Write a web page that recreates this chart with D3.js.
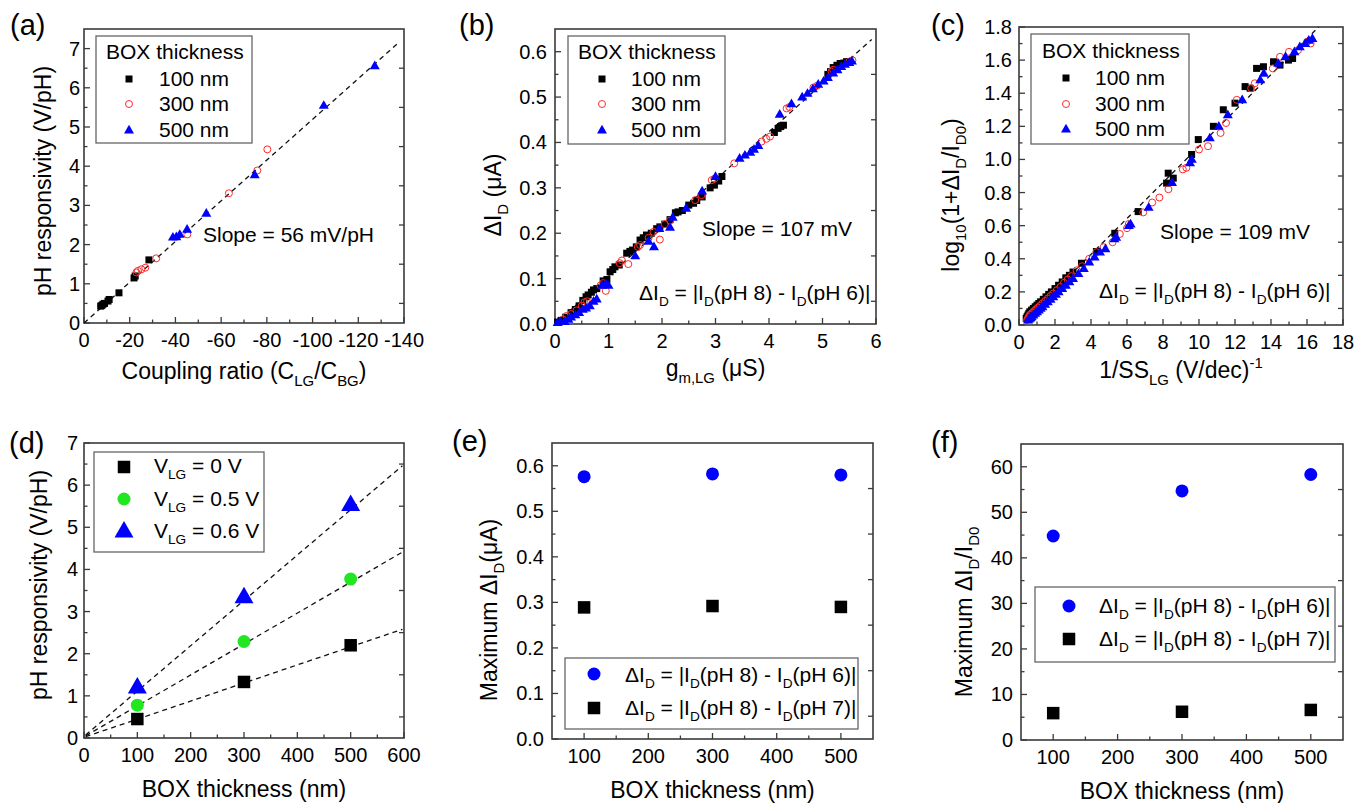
<!DOCTYPE html>
<html><head><meta charset="utf-8">
<script src="https://cdn.jsdelivr.net/npm/d3@7"></script>
<style>
body{margin:0;background:#fff}
svg{display:block}
text{font-family:"Liberation Sans",Arial,sans-serif;fill:#000}
</style>
</head><body>
<svg id="c" width="1367" height="803"></svg>
<script>
// ---------------- DATA ----------------
// (a) coupling ratio vs pH responsivity
const a100x = [-7.3,-7.8,-8.3,-9.0,-10.5,-11.0,-15.3,-21.9,-22.4,-28.4];
const a100y = [0.43,0.45,0.48,0.50,0.56,0.60,0.77,1.15,1.20,1.61];
const a300x = [-22.9,-23.6,-25.1,-26.8,-31.6,-45.2,-63.4,-75.8,-80.2];
const a300y = [1.29,1.33,1.37,1.41,1.65,2.26,3.31,3.89,4.43];
const a500x = [-38.9,-40.4,-41.9,-45.1,-53.5,-74.7,-104.9,-127.2];
const a500y = [2.19,2.20,2.26,2.39,2.80,3.78,5.55,6.56];
const aFitX = [0,-138], aFitY = [0,7.17];

// (b) gm,LG vs delta ID
const b100x = [0.05,0.12,0.2,0.3,0.38,0.45,0.52,0.58,0.62,0.68,0.72,0.78,0.9,0.97,1.03,1.08,1.12,1.2,1.34,1.4,1.45,1.52,1.59,1.65,1.71,1.8,1.9,1.96,2.05,2.15,2.25,2.3,2.38,2.5,2.59,2.65,2.75,2.9,2.98,3.06,3.12,4.1,4.17,4.22,4.27,5.1,5.15,5.2,5.27,5.33,5.4,5.45,5.5];
const b100y = [0.004,0.008,0.015,0.025,0.032,0.04,0.052,0.06,0.064,0.07,0.075,0.078,0.095,0.098,0.115,0.12,0.126,0.13,0.156,0.16,0.163,0.17,0.185,0.19,0.196,0.2,0.21,0.214,0.22,0.23,0.245,0.247,0.25,0.262,0.266,0.272,0.28,0.3,0.306,0.315,0.325,0.422,0.431,0.435,0.438,0.55,0.556,0.565,0.57,0.574,0.575,0.578,0.578];
const b300x = [0.15,0.22,0.3,0.4,0.5,0.55,0.6,0.85,0.9,0.95,1.21,1.25,1.37,1.55,1.59,1.75,1.84,1.96,2.05,2.15,2.62,2.74,2.93,2.98,3.35,3.86,3.95,4.02,4.33,4.38,4.83,4.9,5.17,5.2,5.5,5.56];
const b300y = [0.01,0.018,0.022,0.03,0.04,0.048,0.05,0.085,0.09,0.073,0.134,0.14,0.132,0.17,0.174,0.19,0.203,0.186,0.22,0.228,0.273,0.284,0.317,0.32,0.354,0.402,0.408,0.413,0.475,0.478,0.521,0.525,0.556,0.56,0.578,0.581];
const b500x = [0.05,0.1,0.18,0.25,0.3,0.38,0.45,0.52,0.58,0.65,0.72,0.78,0.88,0.95,1.0,1.5,1.75,1.85,1.95,2.15,2.2,2.45,2.75,3.0,3.45,3.55,3.65,3.72,3.8,4.2,4.42,4.62,4.72,4.82,4.92,5.02,5.1,5.2,5.28,5.35,5.42,5.5,5.55];
const b500y = [0.003,0.005,0.005,0.01,0.015,0.02,0.025,0.032,0.035,0.04,0.05,0.055,0.085,0.088,0.085,0.15,0.182,0.17,0.21,0.213,0.235,0.255,0.293,0.325,0.365,0.372,0.378,0.385,0.393,0.462,0.485,0.5,0.508,0.518,0.528,0.535,0.543,0.553,0.56,0.567,0.572,0.576,0.579];
const bFitX = [0,5.92], bFitY = [0,0.627];

// (c) 1/SS vs log10(1+dID/ID0)
const c100x = [0.4,0.45,0.5,0.55,0.6,0.7,0.8,0.9,1.0,1.1,1.2,1.35,1.5,1.65,1.8,2.0,2.2,2.4,2.6,2.8,3.0,3.47,4.3,5.32,6.62,8.2,8.29,8.57,9.59,9.96,10.8,11.35,12.0,12.56,12.84,13.2,13.58,14.14,14.5,14.97,15.2];
const c100y = [0.04,0.05,0.06,0.07,0.08,0.09,0.1,0.11,0.12,0.13,0.14,0.155,0.17,0.185,0.2,0.22,0.24,0.26,0.285,0.3,0.32,0.373,0.444,0.554,0.685,0.857,0.917,0.887,1.03,1.12,1.2,1.3,1.34,1.44,1.43,1.55,1.56,1.59,1.57,1.6,1.61];
const c300x = [0.45,0.5,0.55,0.6,0.65,0.75,0.85,0.95,1.05,1.15,1.3,1.45,1.6,1.75,1.9,2.1,2.3,2.5,2.7,2.9,3.2,3.5,3.9,4.3,4.7,5.2,5.6,6.0,6.1,6.9,7.4,7.8,8.3,9.1,9.3,10.0,10.5,11.2,11.5,12.1,12.9,13.1,14.1,14.5,15.0,15.5,16.0,16.2];
const c300y = [0.03,0.04,0.05,0.06,0.065,0.075,0.085,0.095,0.105,0.115,0.13,0.145,0.16,0.175,0.19,0.21,0.23,0.255,0.275,0.295,0.33,0.355,0.4,0.44,0.47,0.5,0.55,0.585,0.61,0.68,0.74,0.77,0.82,0.94,0.95,1.06,1.08,1.16,1.22,1.36,1.43,1.46,1.55,1.62,1.65,1.66,1.71,1.7];
const c500x = [0.5,0.55,0.6,0.65,0.7,0.8,0.9,1.0,1.1,1.2,1.3,1.45,1.6,1.75,1.9,2.05,2.2,2.4,2.6,2.8,3.0,3.3,3.6,3.9,4.2,4.5,4.8,5.3,5.4,6.1,6.2,7.2,8.5,9.5,9.6,10.6,11.1,11.6,12.4,13.4,13.6,14.4,14.8,15.3,15.6,15.9,16.1,16.3];
const c500y = [0.03,0.035,0.04,0.045,0.05,0.06,0.07,0.08,0.09,0.1,0.11,0.125,0.14,0.155,0.17,0.185,0.2,0.22,0.24,0.26,0.28,0.31,0.34,0.38,0.41,0.44,0.46,0.52,0.53,0.6,0.61,0.71,0.86,0.98,1.0,1.13,1.2,1.27,1.36,1.48,1.52,1.58,1.62,1.65,1.68,1.7,1.72,1.73];
const cFitX = [0.35,16.65], cFitY = [0.03,1.8];

// (d)-(f) BOX thickness
const boxT = [100,300,500];
const dV0 = [0.45,1.33,2.20];
const dV05 = [0.78,2.29,3.77];
const dV06 = [1.21,3.35,5.54];
const dFitX = [3,597];
const dFit0 = [0.03,2.58], dFit05 = [0.05,4.41], dFit06 = [0.07,6.46];
const eMax86 = [0.576,0.582,0.580];
const eMax87 = [0.289,0.292,0.290];
const fMax86 = [44.8,54.7,58.3];
const fMax87 = [5.9,6.2,6.6];

const boxLegend = ["100 nm","300 nm","500 nm"];

// ---------------- DRAW ----------------
const svg = d3.select('#c');
const FRAME = '#3a3a3a';

function rich(g, x, y, parts, size, opt = {}) {
  const t = g.append('text').attr('x', x).attr('y', y).attr('font-size', size);
  if (opt.anchor) t.attr('text-anchor', opt.anchor);
  if (opt.rotate) t.attr('transform', `rotate(-90,${x},${y})`);
  let cur = 0;
  parts.forEach(p => {
    const s = typeof p === 'string' ? p : p[0];
    const kind = typeof p === 'string' ? 'n' : (p[1] || 'n');
    const target = kind === 'sub' ? size * 0.3 : kind === 'sup' ? -size * 0.45 : 0;
    const ts = t.append('tspan').text(s);
    if (target - cur !== 0) ts.attr('dy', target - cur);
    cur = target;
    if (kind !== 'n') ts.attr('font-size', size * 0.65);
  });
  return t;
}

function marker(g, type, x, y, s, color) {
  if (type === 'square') {
    g.append('rect').attr('x', x - s/2).attr('y', y - s/2).attr('width', s).attr('height', s).attr('fill', color);
  } else if (type === 'circle') {
    g.append('circle').attr('cx', x).attr('cy', y).attr('r', s/2).attr('fill', color);
  } else if (type === 'ocircle') {
    g.append('circle').attr('cx', x).attr('cy', y).attr('r', s/2 - 0.5).attr('fill', 'none').attr('stroke', color).attr('stroke-width', 1);
  } else if (type === 'triangle') {
    const area = 0.433 * s * s;
    g.append('path').attr('d', d3.symbol(d3.symbolTriangle, area)()).attr('transform', `translate(${x},${y + s*0.05})`).attr('fill', color);
  }
}

function panel(cfg) {
  const [L, T, R, B] = cfg.box;
  const g = svg.append('g');
  const x = d3.scaleLinear().domain(cfg.xd).range([L, R]);
  const y = d3.scaleLinear().domain(cfg.yd).range([B, T]);
  const tk = g.append('g').attr('stroke', FRAME).attr('stroke-width', 1.3);
  cfg.xt.forEach(v => tk.append('line').attr('x1', x(v)).attr('x2', x(v)).attr('y1', B).attr('y2', B - 6));
  cfg.xm.forEach(v => tk.append('line').attr('x1', x(v)).attr('x2', x(v)).attr('y1', B).attr('y2', B - 3.5));
  cfg.yt.forEach(v => tk.append('line').attr('y1', y(v)).attr('y2', y(v)).attr('x1', L).attr('x2', L + 6));
  cfg.ym.forEach(v => tk.append('line').attr('y1', y(v)).attr('y2', y(v)).attr('x1', L).attr('x2', L + 3.5));
  cfg.ym.forEach(v => tk.append('line').attr('y1', y(v)).attr('y2', y(v)).attr('x1', R).attr('x2', R - 5));
  cfg.xt.forEach(v => g.append('text').attr('x', x(v)).attr('y', B + 24).attr('text-anchor', 'middle').attr('font-size', 20).text(cfg.xf(v)));
  cfg.yt.forEach(v => g.append('text').attr('x', L - cfg.gap).attr('y', y(v) + 7).attr('text-anchor', 'end').attr('font-size', 20).text(cfg.yf(v)));
  g.append('rect').attr('x', L).attr('y', T).attr('width', R - L).attr('height', B - T)
    .attr('fill', 'none').attr('stroke', FRAME).attr('stroke-width', 1.6);
  rich(g, (L + R) / 2, cfg.xtY, cfg.xtitle, 23, {anchor: 'middle'});
  rich(g, cfg.ytX, cfg.ytY, cfg.ytitle, 23, {anchor: 'middle', rotate: true});
  g.append('text').attr('x', cfg.lab[0]).attr('y', cfg.lab[1]).attr('font-size', 29).text(cfg.label);
  return {g, x, y};
}

function fit(p, xs, ys) {
  p.g.append('line').attr('x1', p.x(xs[0])).attr('y1', p.y(ys[0])).attr('x2', p.x(xs[1])).attr('y2', p.y(ys[1]))
    .attr('stroke', '#111').attr('stroke-width', 1.3).attr('stroke-dasharray', '5,4');
}
function series(p, xs, ys, type, s, color) {
  xs.forEach((v, i) => marker(p.g, type, p.x(v), p.y(ys[i]), s, color));
}
function legendBox(g, x0, y0, x1, y1) {
  g.append('rect').attr('x', x0).attr('y', y0).attr('width', x1 - x0).attr('height', y1 - y0)
    .attr('fill', '#fff').attr('stroke', '#666').attr('stroke-width', 1.3);
}
const range = (a, b, s) => d3.range(a, b + s / 2, s).map(v => +v.toFixed(4));
const f1 = d3.format('.1f'), fd = d3.format('d');

const dI = ["ΔI", ["D", 'sub'], " = |I", ["D", 'sub'], "(pH 8) - I", ["D", 'sub'], "(pH 6)|"];
const dI7 = ["ΔI", ["D", 'sub'], " = |I", ["D", 'sub'], "(pH 8) - I", ["D", 'sub'], "(pH 7)|"];

function boxLegendDraw(p, bx, tx, mx, items) {
  legendBox(p.g, ...bx);
  p.g.append('text').attr('x', tx[0]).attr('y', tx[1]).attr('font-size', 21).text('BOX thickness');
  items.forEach((it, i) => {
    marker(p.g, it.type, mx, it.cy, it.s, it.color);
    p.g.append('text').attr('x', it.tx).attr('y', it.by).attr('font-size', 21).text(boxLegend[i]);
  });
}

// ---- (a)
const pa = panel({box: [84, 29, 404, 323], xd: [0, -140], yd: [0, 7.5],
  xt: range(0, 140, 20).map(v => -v), xm: range(10, 130, 20).map(v => -v),
  yt: range(0, 7, 1), ym: range(0.5, 7.5, 1).filter(v => v < 7.5),
  xf: v => v === 0 ? '0' : String(v), yf: fd, gap: 4,
  xtY: 379, xtitle: ["Coupling ratio (C", ["LG", 'sub'], "/C", ["BG", 'sub'], ")"],
  ytX: 51, ytY: 181, ytitle: ["pH responsivity (V/pH)"], label: '(a)', lab: [10, 35]});
fit(pa, aFitX, aFitY);
series(pa, a100x, a100y, 'square', 7, '#000');
series(pa, a300x, a300y, 'ocircle', 8, '#ff2a2a');
series(pa, a500x, a500y, 'triangle', 10, '#0000ff');
boxLegendDraw(pa, [96, 36, 252, 143], [106, 59], 129, [
  {type: 'square', cy: 79, s: 7, color: '#000', tx: 159, by: 86},
  {type: 'ocircle', cy: 104, s: 8, color: '#ff2a2a', tx: 159, by: 111},
  {type: 'triangle', cy: 130, s: 10, color: '#0000ff', tx: 159, by: 137}]);
pa.g.append('text').attr('x', 203).attr('y', 242).attr('font-size', 21).text('Slope = 56 mV/pH');

// ---- (b)
const pb = panel({box: [555, 29, 876, 324], xd: [0, 6], yd: [0, 0.65],
  xt: range(0, 6, 1), xm: range(0.5, 5.5, 1), yt: range(0, 0.6, 0.1), ym: range(0.05, 0.55, 0.1),
  xf: fd, yf: f1, gap: 8,
  xtY: 376, xtitle: ["g", ["m,LG", 'sub'], " (μS)"],
  ytX: 501, ytY: 195, ytitle: ["ΔI", ["D", 'sub'], " (μA)"], label: '(b)', lab: [459, 35]});
fit(pb, bFitX, bFitY);
series(pb, b100x, b100y, 'square', 7, '#000');
series(pb, b300x, b300y, 'ocircle', 8, '#ff2a2a');
series(pb, b500x, b500y, 'triangle', 10, '#0000ff');
boxLegendDraw(pb, [568, 36, 725, 144], [578, 59], 602, [
  {type: 'square', cy: 79, s: 7, color: '#000', tx: 631, by: 86},
  {type: 'ocircle', cy: 104, s: 8, color: '#ff2a2a', tx: 631, by: 111},
  {type: 'triangle', cy: 130, s: 10, color: '#0000ff', tx: 631, by: 137}]);
pb.g.append('text').attr('x', 702).attr('y', 236).attr('font-size', 21).text('Slope = 107 mV');
rich(pb.g, 639, 300, dI, 21);

// ---- (c)
const pc = panel({box: [1019, 27, 1343, 325], xd: [0, 18], yd: [0, 1.8],
  xt: range(0, 18, 2), xm: range(1, 17, 2), yt: range(0, 1.8, 0.2), ym: range(0.1, 1.7, 0.2),
  xf: fd, yf: f1, gap: 7,
  xtY: 378, xtitle: ["1/SS", ["LG", 'sub'], " (V/dec)", ["-1", 'sup']],
  ytX: 959, ytY: 195, ytitle: ["log", ["10", 'sub'], "(1+ΔI", ["D", 'sub'], "/I", ["D0", 'sub'], ")"], label: '(c)', lab: [931, 35]});
fit(pc, cFitX, cFitY);
series(pc, c100x, c100y, 'square', 7, '#000');
series(pc, c300x, c300y, 'ocircle', 8, '#ff2a2a');
series(pc, c500x, c500y, 'triangle', 10, '#0000ff');
boxLegendDraw(pc, [1031, 34, 1189, 144], [1042, 58], 1066, [
  {type: 'square', cy: 78, s: 7, color: '#000', tx: 1095, by: 85},
  {type: 'ocircle', cy: 104, s: 8, color: '#ff2a2a', tx: 1095, by: 111},
  {type: 'triangle', cy: 129, s: 10, color: '#0000ff', tx: 1095, by: 136}]);
pc.g.append('text').attr('x', 1160).attr('y', 239).attr('font-size', 21).text('Slope = 109 mV');
rich(pc.g, 1099, 298, dI, 21);

// ---- (d)
const pd = panel({box: [84, 443, 404, 738], xd: [0, 600], yd: [0, 7],
  xt: range(0, 600, 100), xm: range(50, 550, 100), yt: range(0, 7, 1), ym: range(0.5, 6.5, 1),
  xf: fd, yf: fd, gap: 6,
  xtY: 797, xtitle: ["BOX thickness (nm)"],
  ytX: 47, ytY: 585, ytitle: ["pH responsivity (V/pH)"], label: '(d)', lab: [9, 453]});
fit(pd, dFitX, dFit0); fit(pd, dFitX, dFit05); fit(pd, dFitX, dFit06);
series(pd, boxT, dV0, 'square', 12.5, '#000');
series(pd, boxT, dV05, 'circle', 13, '#22e622');
series(pd, boxT, dV06, 'triangle', 19, '#0000ff');
legendBox(pd.g, 94, 452, 264, 552);
[['square', 467, 12.5, '#000', '0 V', 473], ['circle', 499, 13, '#22e622', '0.5 V', 506], ['triangle', 531, 19, '#0000ff', '0.6 V', 538]]
  .forEach(([t, cy, s, c, lbl, by]) => {
    marker(pd.g, t, 124, cy, s, c);
    rich(pd.g, 154, by, ["V", ["LG", 'sub'], " = " + lbl], 21);
  });

// ---- (e)
const pe = panel({box: [552, 443, 873, 739], xd: [50, 550], yd: [0, 0.65],
  xt: range(100, 500, 100), xm: range(150, 450, 100), yt: range(0, 0.6, 0.1), ym: range(0.05, 0.55, 0.1),
  xf: fd, yf: f1, gap: 8,
  xtY: 798, xtitle: ["BOX thickness (nm)"],
  ytX: 497, ytY: 610, ytitle: ["Maximum ΔI", ["D", 'sub'], "(μA)"], label: '(e)', lab: [452, 451]});
series(pe, boxT, eMax86, 'circle', 13, '#0000ff');
series(pe, boxT, eMax87, 'square', 12.5, '#000');
legendBox(pe.g, 565, 658, 858, 729);
marker(pe.g, 'circle', 594, 674, 13, '#0000ff');
marker(pe.g, 'square', 594, 708, 12.5, '#000');
rich(pe.g, 625, 682, dI, 21);
rich(pe.g, 625, 715, dI7, 21);

// ---- (f)
const pf = panel({box: [1021, 444, 1343, 740], xd: [50, 550], yd: [0, 65],
  xt: range(100, 500, 100), xm: range(150, 450, 100), yt: range(0, 60, 10), ym: range(5, 55, 10),
  xf: fd, yf: fd, gap: 8,
  xtY: 799, xtitle: ["BOX thickness (nm)"],
  ytX: 972, ytY: 612, ytitle: ["Maximum ΔI", ["D", 'sub'], "/I", ["D0", 'sub']], label: '(f)', lab: [931, 452]});
series(pf, boxT, fMax86, 'circle', 13, '#0000ff');
series(pf, boxT, fMax87, 'square', 12.5, '#000');
legendBox(pf.g, 1035, 587, 1335, 662);
marker(pf.g, 'circle', 1069, 606, 13, '#0000ff');
marker(pf.g, 'square', 1069, 639, 12.5, '#000');
rich(pf.g, 1099, 613, dI, 21);
rich(pf.g, 1099, 646, dI7, 21);
</script>
</body></html>
